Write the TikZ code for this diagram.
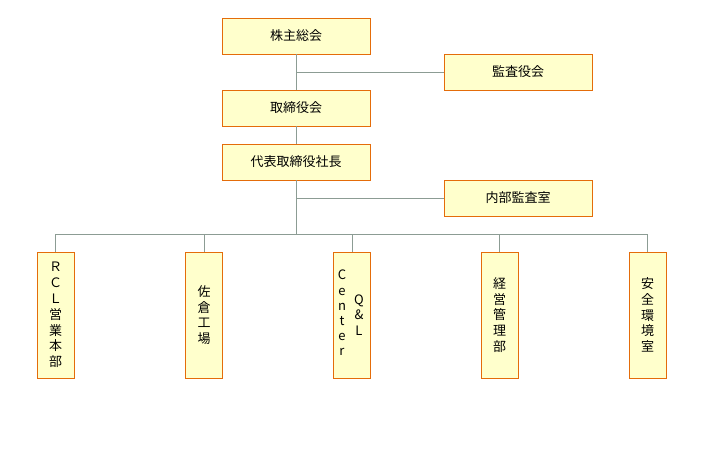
\documentclass[tikz,border=0pt]{standalone}
\usepackage{fontspec}
\setmainfont{Noto Sans CJK JP}
\definecolor{boxfill}{HTML}{FFFFCC}
\definecolor{boxline}{HTML}{E46C0A}
\definecolor{wire}{HTML}{8C9C94}
\begin{document}
\begin{tikzpicture}[x=1pt,y=-1pt,
  hbox/.style={draw=boxline,fill=boxfill,line width=0.9pt,minimum width=148pt,minimum height=36pt,inner sep=0pt,font=\fontsize{13}{15}\selectfont},
  vbox/.style={draw=boxline,fill=boxfill,line width=0.9pt,minimum width=37pt,minimum height=126pt,inner sep=0pt},
  vtext/.style={align=center,inner sep=0pt,font=\fontsize{13}{15.8}\selectfont},
  wireline/.style={draw=wire,line width=0.8pt}]
\useasboundingbox (0,0) rectangle (710,448);
\fill[white] (0,0) rectangle (710,448);
% top boxes
\node[hbox] (agm) at (296,36) {株主総会};
\node[hbox] (aud) at (518,72) {監査役会};
\node[hbox] (brd) at (296,108) {取締役会};
\node[hbox] (pres) at (296,162) {代表取締役社長};
\node[hbox] (int) at (518,198) {内部監査室};
% bottom boxes
\node[vbox] (b1) at (55.5,315) {};
\node[vtext] at (b1) {Ｒ\\Ｃ\\Ｌ\\営\\業\\本\\部};
\node[vbox] (b2) at (204,315) {};
\node[vtext] at (b2) {佐\\倉\\工\\場};
\node[vbox] (b3) at (352,315) {};
\node[vtext,font=\fontsize{13}{15.2}\selectfont] at (342,313) {C\\e\\n\\t\\e\\r};
\node[vtext,font=\fontsize{13}{15.5}\selectfont] at (359,315) {Q\\\&\\L};
\node[vbox] (b4) at (499.5,315) {};
\node[vtext] at (b4) {経\\営\\管\\理\\部};
\node[vbox] (b5) at (647.5,315) {};
\node[vtext] at (b5) {安\\全\\環\\境\\室};
% connectors
\coordinate (j1) at (296,72);
\coordinate (j2) at (296,198);
\coordinate (bus) at (296,234);
\draw[wireline] (agm.south) -- (brd.north);
\draw[wireline] (brd.south) -- (pres.north);
\draw[wireline] (pres.south) -- (bus);
\draw[wireline] (j1) -- (aud.west);
\draw[wireline] (j2) -- (int.west);
\draw[wireline] (b1.north |- bus) -- (b5.north |- bus);
\foreach \b in {b1,b2,b3,b4,b5}{
  \draw[wireline] (\b.north) -- (\b.north |- bus);
}
\end{tikzpicture}
\end{document}
